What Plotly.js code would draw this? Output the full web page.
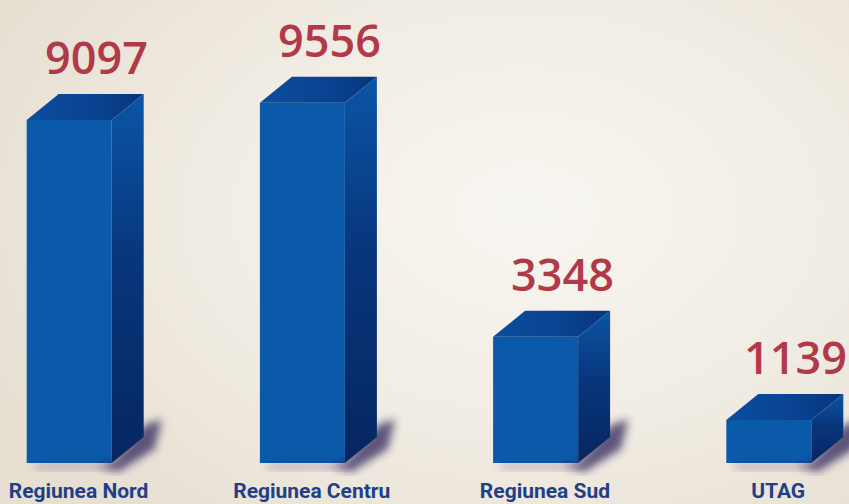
<!DOCTYPE html>
<html>
<head>
<meta charset="utf-8">
<script src="https://cdn.plot.ly/plotly-3.0.1.min.js"></script>
<style>
html,body{margin:0;padding:0;width:849px;height:504px;overflow:hidden;
background:radial-gradient(ellipse 70% 80% at 62% 42%, #f8f6f1 0%, #f1ece3 55%, #e6dfd2 100%);}
#chart{width:849px;height:504px;}
path.js-fill[style*="rgb(45, 35, 90)"]{filter:url(#softblur);}
</style>
</head>
<body>
<svg width="0" height="0" style="position:absolute">
  <defs>
    <filter id="softblur" x="-60%" y="-60%" width="220%" height="220%">
      <feGaussianBlur stdDeviation="4.5"/>
    </filter>
  </defs>
</svg>
<div id="chart"></div>
<script>
const categories = ["Regiunea Nord", "Regiunea Centru", "Regiunea Sud", "UTAG"];
const values = [9097, 9556, 3348, 1139];

// scale helpers (pixel sizes -> axis units)
const PX_X = 233.2;      // px per x unit
const PX_Y = 0.0377;     // px per y unit
const ux = p => p / PX_X;
const uy = p => p / PX_Y;

const halfW = ux(42.5);  // half width of front face
const dX = ux(32);       // depth offset
const dY = uy(26);
const idx = categories.map((c, i) => i);

const traces = [];
// soft shadows (blurred via svg filter)
idx.forEach(i => {
  const r = i + halfW, l = i - halfW;
  traces.push({
    type: "scatter", mode: "lines", fill: "toself", hoverinfo: "skip", showlegend: false,
    x: [r - ux(14), r + ux(6), r + ux(43), r + ux(50), r + ux(33), r],
    y: [uy(-2), uy(-9), uy(14), uy(44), uy(38), 0],
    line: {width: 0}, fillcolor: "rgba(45,35,90,0.75)"
  });
  traces.push({
    type: "scatter", mode: "lines", fill: "toself", hoverinfo: "skip", showlegend: false,
    x: [l + ux(6), r, r, l + ux(10)],
    y: [uy(-1), uy(-1), uy(-6), uy(-6)],
    line: {width: 0}, fillcolor: "rgba(45,35,90,0.3)"
  });
});

// front faces
traces.push({
  type: "bar", x: idx, y: values, width: 2 * halfW, showlegend: false, hoverinfo: "skip",
  marker: {color: "#0b5aa9", line: {width: 0}}
});

idx.forEach(i => {
  const v = values[i];
  const l = i - halfW, r = i + halfW;
  // top face
  traces.push({
    type: "scatter", mode: "lines", fill: "toself", hoverinfo: "skip", showlegend: false,
    x: [l, l + dX, r + dX, r, l], y: [v, v + dY, v + dY, v, v],
    line: {width: 0},
    fillgradient: {type: "horizontal", colorscale: [[0, "#0b4d9e"], [0.6, "#0a4290"], [1, "#07357a"]]}
  });
  // side face
  traces.push({
    type: "scatter", mode: "lines", fill: "toself", hoverinfo: "skip", showlegend: false,
    x: [r, r, r + dX, r + dX, r], y: [0, v, v + dY, dY, 0],
    line: {width: 0},
    fillgradient: {type: "vertical", colorscale: [[0, "#062660"], [0.55, "#08367c"], [1, "#0b55a6"]]}
  });
});

const annotations = idx.map(i => ({
  x: i + ux(27), y: values[i] + dY, xref: "x", yref: "y",
  text: String(values[i]), showarrow: false, yanchor: "bottom", yshift: 5,
  font: {family: "Open Sans, DejaVu Sans, sans-serif", size: 45, color: "#b23947", weight: 600}
}));

const layout = {
  width: 849, height: 504,
  margin: {l: 0, r: 0, t: 0, b: 28, pad: 0},
  paper_bgcolor: "rgba(0,0,0,0)", plot_bgcolor: "rgba(0,0,0,0)",
  xaxis: {
    range: [-ux(69.2), -ux(69.2) + ux(849)], showgrid: false, zeroline: false, showline: false,
    tickvals: idx.map(i => i + 0.04), ticktext: categories, ticks: "", ticklabelstandoff: 0,
    ticklabeloverflow: "allow",
    tickfont: {family: "Roboto, DejaVu Sans, sans-serif", size: 21, color: "#1f3f88", weight: "bold"},
    fixedrange: true
  },
  yaxis: {range: [uy(-13), uy(463)], visible: false, fixedrange: true},
  annotations: annotations,
  showlegend: false
};

Plotly.newPlot("chart", traces, layout, {displayModeBar: false, staticPlot: true});
</script>
</body>
</html>
